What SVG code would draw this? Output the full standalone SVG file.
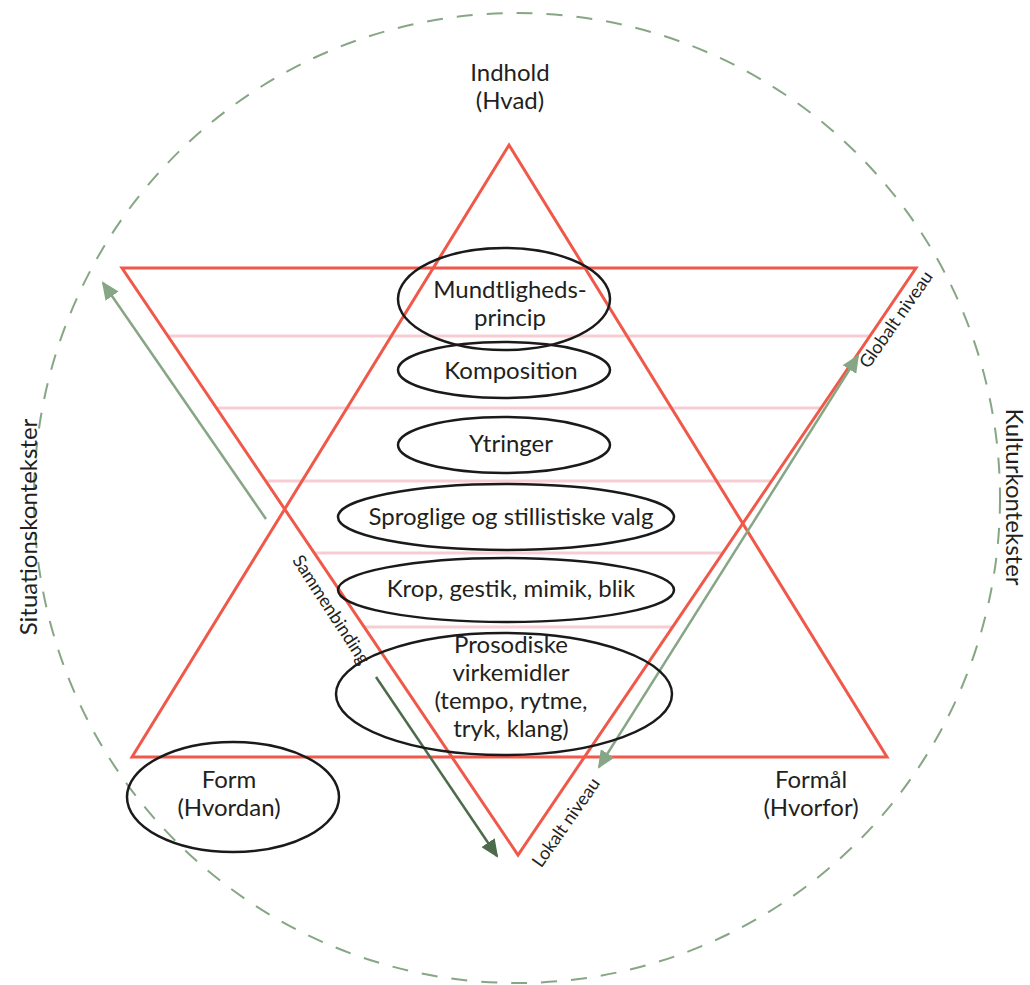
<svg xmlns="http://www.w3.org/2000/svg" width="1030" height="985" viewBox="0 0 1030 985">
<style>
.red{fill:none;stroke:#F0594A;stroke-width:3;stroke-linejoin:miter}
.pink{stroke:#F7CDD3;stroke-width:3}
.ell{fill:none;stroke:#1a1a1a;stroke-width:2.5}
.t{font-family:Lato,"Open Sans","Liberation Sans",sans-serif;font-size:24px;fill:#231F20;text-anchor:middle}
.s{font-family:Lato,"Open Sans","Liberation Sans",sans-serif;font-size:18px;fill:#231F20;text-anchor:middle}
.g{stroke:#87A685;stroke-width:2.5;fill:none}
.dg{stroke:#4B6B4A;stroke-width:2.5;fill:none}
</style>
<defs>
<marker id="ag" markerUnits="userSpaceOnUse" markerWidth="18" markerHeight="16" refX="16" refY="8" orient="auto-start-reverse" viewBox="0 0 18 16"><path d="M0,0 L18,8 L0,16 Z" fill="#87A685"/></marker>
<marker id="adg" markerUnits="userSpaceOnUse" markerWidth="18" markerHeight="16" refX="16" refY="8" orient="auto" viewBox="0 0 18 16"><path d="M0,0 L18,8 L0,16 Z" fill="#4B6B4A"/></marker>
</defs>
<rect width="1030" height="985" fill="#fff"/>
<g id="context-circle">
<ellipse cx="517" cy="498" rx="483" ry="485" fill="none" stroke="#87A685" stroke-width="2" stroke-dasharray="16 14"/>
</g>
<g id="levels">
<line class="pink" x1="168" y1="336" x2="870" y2="336"/>
<line class="pink" x1="216" y1="408" x2="821" y2="408"/>
<line class="pink" x1="265" y1="481" x2="772" y2="481"/>
<line class="pink" x1="314" y1="553" x2="723" y2="553"/>
<line class="pink" x1="364" y1="627" x2="672" y2="627"/>
</g>
<g id="triangles">
<polygon class="red" points="509,145 887,757 132,757"/>
<polygon class="red" points="122,268 916,268 518,855"/>
</g>
<g id="connectors">
<line class="g" x1="266" y1="519" x2="103" y2="283" marker-end="url(#ag)"/>
<line class="g" x1="599" y1="767" x2="858" y2="356" marker-start="url(#ag)" marker-end="url(#ag)"/>
<line class="dg" x1="376" y1="677" x2="497" y2="856" marker-end="url(#adg)"/>
</g>
<g id="node-indhold"><text class="t" x="510" y="81">Indhold</text><text class="t" x="510" y="109">(Hvad)</text></g>
<g id="node-mundtlighed"><ellipse class="ell" cx="504" cy="299" rx="106" ry="51"/><text class="t" x="510" y="298">Mundtligheds-</text><text class="t" x="510" y="326">princip</text></g>
<g id="node-komposition"><ellipse class="ell" cx="504" cy="370" rx="106" ry="28"/><text class="t" x="511" y="379">Komposition</text></g>
<g id="node-ytringer"><ellipse class="ell" cx="504" cy="445" rx="106" ry="28"/><text class="t" x="511" y="452">Ytringer</text></g>
<g id="node-sproglige"><ellipse class="ell" cx="506" cy="517" rx="168" ry="33"/><text class="t" x="511" y="525">Sproglige og stillistiske valg</text></g>
<g id="node-krop"><ellipse class="ell" cx="506" cy="590" rx="168" ry="32"/><text class="t" x="511" y="597">Krop, gestik, mimik, blik</text></g>
<g id="node-prosodiske"><ellipse class="ell" cx="504" cy="694" rx="168" ry="61"/><text class="t" x="511" y="653">Prosodiske</text><text class="t" x="511" y="681">virkemidler</text><text class="t" x="511" y="709">(tempo, rytme,</text><text class="t" x="511" y="737">tryk, klang)</text></g>
<g id="node-form"><ellipse class="ell" cx="233" cy="797" rx="106" ry="55"/><text class="t" x="229" y="788">Form</text><text class="t" x="229" y="816">(Hvordan)</text></g>
<g id="node-formaal"><text class="t" x="811" y="788">Formål</text><text class="t" x="811" y="816">(Hvorfor)</text></g>
<g id="labels">
<text class="t" transform="translate(37,527) rotate(-90)">Situationskontekster</text>
<text class="t" transform="translate(1006,497) rotate(90)">Kulturkontekster</text>
<text class="s" transform="translate(326,613) rotate(57)">Sammenbinding</text>
<text class="s" transform="translate(901,323) rotate(-55)">Globalt niveau</text>
<text class="s" transform="translate(571,826) rotate(-55)">Lokalt niveau</text>
</g>
</svg>
